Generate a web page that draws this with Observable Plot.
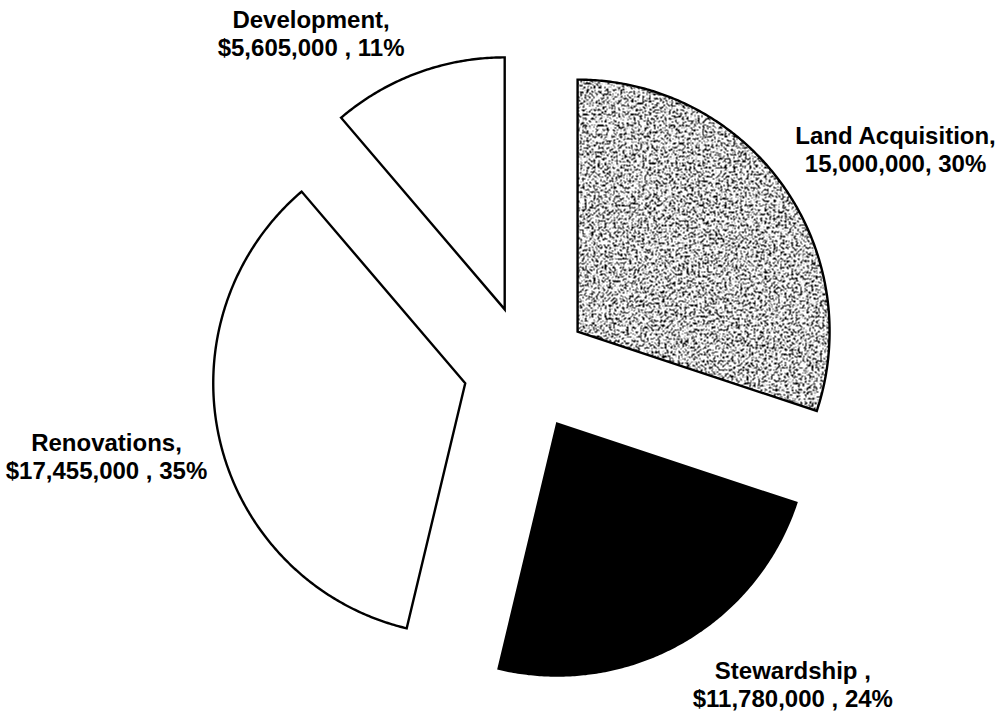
<!DOCTYPE html>
<html>
<head>
<meta charset="utf-8">
<script src="https://cdn.jsdelivr.net/npm/d3@7"></script>
<script src="https://cdn.jsdelivr.net/npm/@observablehq/plot@0.6"></script>
<style>
  html, body { margin: 0; padding: 0; background: #fff; }
  #chart svg { display: block; }
</style>
</head>
<body>
<svg style="position:absolute;width:0;height:0;overflow:hidden" aria-hidden="true">
  <defs>
    <filter id="speckleFilter" filterUnits="userSpaceOnUse" x="0" y="0" width="1000" height="717" color-interpolation-filters="sRGB">
      <feTurbulence type="fractalNoise" baseFrequency="0.45" numOctaves="4" seed="11" result="noise"/>
      <feColorMatrix in="noise" type="matrix" values="0 0 0 0 0  0 0 0 0 0  0 0 0 0 0  -11 0 0 0 5.15" result="dots"/>
      <feFlood flood-color="#ffffff" result="bg"/>
      <feMerge><feMergeNode in="bg"/><feMergeNode in="dots"/></feMerge>
    </filter>
    <pattern id="speckle" patternUnits="userSpaceOnUse" x="0" y="0" width="1000" height="717">
      <rect x="0" y="0" width="1000" height="717" fill="#fff" filter="url(#speckleFilter)"/>
    </pattern>
  </defs>
</svg>
<div id="chart"></div>
<script>
// ---- data ----
const categories = ["Land Acquisition", "Stewardship", "Renovations", "Development"];
const amounts = [15000000, 11780000, 17455000, 5605000];
const nameLines = ["Land Acquisition,", "Stewardship ,", "Renovations,", "Development,"];
const valueLines = ["15,000,000, 30%", "$11,780,000 , 24%", "$17,455,000 , 35%", "$5,605,000 , 11%"];

// ---- geometry ----
const W = 1000, H = 717;
const radiusPx = 252;          // pie radius in pixels
const explode = 63 / radiusPx; // explosion distance in radius units
const cx = 526, cy = 368;      // pie centre in pixels

const FONT = "'Liberation Sans', Arial, Helvetica, sans-serif";
const FONT_SIZE = 24;
const ctx = document.createElement("canvas").getContext("2d");
ctx.font = `bold ${FONT_SIZE}px ${FONT}`;

const arcs = d3.pie().sort(null).value(d => d)(amounts);
const slices = [];
const labels = [];
arcs.forEach((a, i) => {
  const category = categories[i];
  const mid = (a.startAngle + a.endAngle) / 2;
  const ox = explode * Math.sin(mid), oy = explode * Math.cos(mid);
  slices.push({category, x: ox, y: oy});
  const steps = Math.max(2, Math.ceil((a.endAngle - a.startAngle) / (Math.PI / 360)));
  for (let k = 0; k <= steps; k++) {
    const t = a.startAngle + (a.endAngle - a.startAngle) * k / steps;
    slices.push({category, x: ox + Math.sin(t), y: oy + Math.cos(t)});
  }
  const w = Math.max(ctx.measureText(nameLines[i]).width, ctx.measureText(valueLines[i]).width);
  labels.push({
    category,
    x: ox + Math.sin(mid),
    y: oy + Math.cos(mid),
    text: nameLines[i] + "\n" + valueLines[i],
    dx: Math.sign(Math.sin(mid)) * (w / 2 + 13),
    dy: -Math.max(-1, Math.min(1, 1.5 * Math.cos(mid))) * 40
  });
});

const chart = Plot.plot({
  width: W,
  height: H,
  margin: 0,
  style: {background: "#fff", overflow: "visible"},
  x: {domain: [-cx / radiusPx, (W - cx) / radiusPx], axis: null},
  y: {domain: [-(H - cy) / radiusPx, cy / radiusPx], axis: null},
  color: {domain: categories, range: ["url(#speckle)", "#000000", "#ffffff", "#ffffff"]},
  marks: [
    Plot.line(slices, {
      x: "x", y: "y", z: "category", fill: "category",
      stroke: "#000", strokeWidth: 2.4, curve: "linear-closed",
      strokeLinejoin: "miter", strokeMiterlimit: 10
    }),
    ...labels.map(l => Plot.text([l], {
      x: "x", y: "y", text: "text",
      dx: l.dx, dy: l.dy,
      textAnchor: "middle", lineAnchor: "middle", lineHeight: 1.17,
      fontFamily: FONT, fontSize: FONT_SIZE, fontWeight: "bold", fill: "#000"
    }))
  ]
});
document.getElementById("chart").appendChild(chart);
</script>
</body>
</html>
